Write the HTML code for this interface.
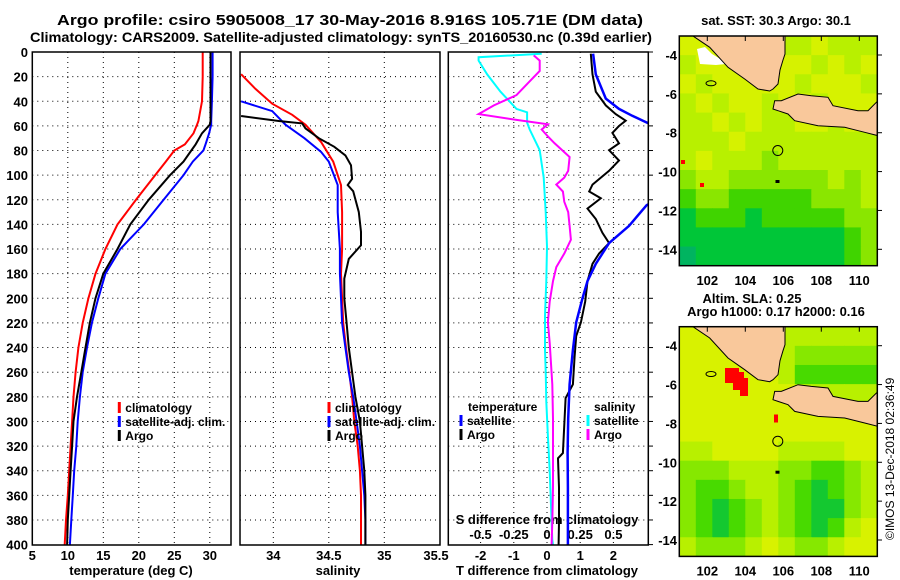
<!DOCTYPE html>
<html><head><meta charset="utf-8"><style>
body{margin:0;background:#fff}
svg{display:block}
text{font-family:"Liberation Sans",Arial,sans-serif;font-weight:bold;fill:#000}
</style></head><body>
<svg id="c" width="900" height="580" viewBox="0 0 900 580" xmlns="http://www.w3.org/2000/svg">
<defs>
<clipPath id="cp1"><rect x="32.3" y="52" width="198.7" height="493"/></clipPath>
<clipPath id="cp2"><rect x="240" y="52" width="200" height="493"/></clipPath>
<clipPath id="cp3"><rect x="448.3" y="52" width="200" height="493"/></clipPath>
<clipPath id="cpm1"><rect x="679.3" y="36" width="198" height="229.7"/></clipPath>
<clipPath id="cpm2"><rect x="679.3" y="326.7" width="198" height="230"/></clipPath>
</defs>
<text x="350" y="25" text-anchor="middle" font-size="15" textLength="586" lengthAdjust="spacingAndGlyphs">Argo profile: csiro 5905008_17 30-May-2016 8.916S 105.71E (DM data)</text>
<text x="341" y="42" text-anchor="middle" font-size="14" textLength="622" lengthAdjust="spacingAndGlyphs">Climatology: CARS2009. Satellite-adjusted climatology: synTS_20160530.nc (0.39d earlier)</text>
<g id="g"></g>
</svg>
<script>
// depth levels
var tDepth=[0,20,40,56,59,66,75,80,89,100,120,140,160,180,200,220,240,260,280,300,320,340,360,380,400];
var tClim=[29.0,29.0,28.9,28.4,28.2,27.7,26.5,25.0,23.8,22.3,19.6,17.0,15.3,13.9,12.9,12.1,11.5,11.1,10.8,10.6,10.4,10.2,10.0,9.75,9.57];
var tSat=[30.4,30.4,30.3,30.2,30.2,29.9,29.4,29.1,27.6,26.3,23.5,20.7,17.4,15.3,14.3,13.4,12.7,12.1,11.7,11.4,11.2,10.9,10.7,10.5,10.3];
var tArgo=[30.1,30.1,30.1,30.1,30.0,28.9,28.0,27.4,26.3,24.4,21.4,18.8,17.0,15.0,13.9,13.1,12.5,11.9,11.3,10.8,10.6,10.4,10.2,10.0,9.9];

var sClimDepth=[18,30,42,51,59,73,89,108,130,160,180,200,220,240,260,280,300,320,340,360,380,400];
var sClim=[33.71,33.84,33.99,34.17,34.29,34.43,34.54,34.61,34.62,34.62,34.61,34.62,34.63,34.655,34.685,34.71,34.73,34.76,34.78,34.79,34.79,34.79];
var sSatDepth=[40,48,59,70,81,89,108,130,160,180,200,220,240,260,280,300,320,340,360,380,400];
var sSat=[33.71,33.99,34.11,34.28,34.43,34.50,34.58,34.58,34.60,34.60,34.61,34.62,34.65,34.68,34.72,34.75,34.78,34.80,34.82,34.83,34.83];
var sArgoDepth=[52,56,58,62,70,77,84,92,103,108,113,130,146,157,168,184,200,220,240,260,280,300,320,340,360,380,400];
var sArgo=[33.71,34.05,34.26,34.29,34.41,34.55,34.65,34.70,34.71,34.67,34.72,34.77,34.79,34.79,34.68,34.64,34.64,34.66,34.68,34.71,34.74,34.78,34.80,34.82,34.83,34.83,34.83];

var dSalSatDepth=[1.4,4.2,7.0,18.2,32.2,46.2,49.0,57.3,62.9,79.7,102,130,158,186,214,242,259,284,312,340,368,396,400];
var dSalSat=[-0.04,-0.515,-0.515,-0.45,-0.35,-0.23,-0.15,-0.15,-0.13,-0.055,-0.025,-0.01,0,-0.005,-0.015,-0.015,-0.01,-0.005,0.007,0.02,0.03,0.04,0.045];
var dSalArgoDepth=[2.8,7.0,15.4,23.8,35,43.4,50.4,55.1,58.7,62.9,68.5,74.1,85.3,96.5,102,107.7,113.3,121.6,130,141.2,152.4,163.6,174.7,186,202.7,219.5,236.2,253,269.8,297.7,325.7,353.6,381.6,400];
var dSalArgo=[-0.10,-0.055,-0.055,-0.13,-0.23,-0.40,-0.515,-0.23,0.007,-0.04,0.007,0.057,0.17,0.16,0.13,0.07,0.12,0.13,0.16,0.17,0.18,0.13,0.07,0.045,0.02,0.007,0.02,0.03,0.04,0.045,0.045,0.045,0.04,0.035];
var dTmpArgoDepth=[1.4,18.2,32.2,43.4,50.4,55.8,60.1,65.7,74.1,79.7,88.1,96.5,107.7,113.3,118.8,127.2,135.6,146.8,155.2,163.6,172,186,202.7,219.5,230.7,247.4,269.8,281,297.7,325.7,329.9,353.6,381.6,400];
var dTmpArgo=[1.32,1.37,1.47,1.77,2.07,2.37,2.17,1.97,2.17,1.87,2.17,1.87,1.37,1.27,1.62,1.22,1.47,1.67,1.87,1.57,1.37,1.22,1.15,1.02,0.88,0.83,0.78,0.56,0.53,0.48,0.33,0.36,0.36,0.35];
var dTmpSatDepth=[1.4,18.2,37.8,46.2,51.8,57.3,70,90,110,124.4,141.2,155.2,172,186,199.9,219.5,242,269.8,297.7,325.7,353.6,381.6,400];
var dTmpSat=[1.39,1.47,1.77,2.17,2.57,3.01,4.2,4.6,4.0,3.0,2.47,1.87,1.47,1.22,1.07,0.88,0.78,0.68,0.64,0.62,0.63,0.63,0.63];

var depthTicks=[0,20,40,60,80,100,120,140,160,180,200,220,240,260,280,300,320,340,360,380,400];
var tTicks=[5,10,15,20,25,30];
var sTicks=[34,34.5,35,35.5];
var sTickLabels=["34","34.5","35","35.5"];
var dtTicks=[-3,-2,-1,0,1,2];
var dtTickLabels=["-1.5","-2","-1","0","1","2"];
var dsTicks=[-0.5,-0.25,0,0.25,0.5];
var dsTickLabels=["-0.5","-0.25","0","0.25","0.5"];
var lonTicks=[102,104,106,108,110];
var latTicks=[-4,-6,-8,-10,-12,-14];

// map heatmaps (level values)
var sstLevels=[
[0,0,0,0,0,0,1,1,0,1,1,1],
[1,0,0,0,0,0,0,0,1,0,1,0],
[0,1,0,0,0,0,0,1,0,0,0,1],
[1,0,1,0,0,1,0,0,1,0,0,0],
[1,1,0,1,0,1,1,0,0,1,0,0],
[1,1,1,0,1,1,1,1,1,1,1,1],
[1,0,1,1,1,2,1,1,1,1,1,1],
[2,1,1,2,2,2,2,2,2,1,2,1],
[3,2,2,3,3,3,3,3,2,2,2,1],
[4,3,3,3,4,3,3,3,3,3,2,2],
[4,4,4,4,4,4,4,4,4,4,3,2],
[5,4,4,4,4,4,4,4,4,4,3,2]];
var slaLevels=[
[0,0,0,0,0,0,1,1,1,1,1,1],
[0,0,0,0,0,0,1,2,2,2,2,2],
[0,0,0,0,0,0,1,3,3,3,3,3],
[0,0,0,0,0,0,0,1,1,1,1,1],
[0,0,0,0,0,0,0,0,0,0,0,0],
[0,0,0,0,0,0,0,0,0,0,0,0],
[1,1,0,0,0,0,1,1,1,1,0,0],
[2,2,2,1,1,1,2,2,3,3,2,1],
[2,3,3,2,1,1,2,3,4,3,2,1],
[2,3,4,3,2,1,2,3,4,4,2,1],
[2,3,4,3,2,1,2,3,4,3,1,0],
[1,2,2,2,1,0,1,2,2,1,0,0]];
var sstColors=["#d6f200","#b8f000","#8ae600","#40d400","#00c638","#00b460"];
var slaColors=["#d8f200","#b8f000","#86e800","#48da00","#14c830"];

var NS="http://www.w3.org/2000/svg";
var G=document.getElementById('g');
function mk(tag,attrs,parent){var e=document.createElementNS(NS,tag);for(var k in attrs)e.setAttribute(k,attrs[k]);(parent||G).appendChild(e);return e;}
function txt(x,y,s,size,anchor,parent){var e=mk('text',{x:x,y:y,'font-size':size,'text-anchor':anchor||'middle'},parent);e.textContent=s;return e;}

function yD(d){return 52+d*1.2315;}
function xT(t){return 32.3+(t-5)*7.1;}
function xS(s){return 273.3+(s-34)*111;}
function xDT(t){return 547+t*33.2;}
function xDS(s){return 547+s*132.8;}
function mLon(l){return 707.3+(l-102)*19;}
function mLat(l,off){return 55+off+(-4-l)*19.43;}

var panels=[[32.3,231],[240,440],[448.3,648.3]];
panels.forEach(function(p,i){
  var gg=mk('g',{});
  
  
  depthTicks.forEach(function(d){if(d>0&&d<400)mk('line',{x1:p[0],x2:p[1],y1:yD(d),y2:yD(d),stroke:'#000','stroke-width':1,'stroke-dasharray':'1,4'},gg);});
});
tTicks.forEach(function(t){if(t>5)mk('line',{x1:xT(t),x2:xT(t),y1:52,y2:545,stroke:'#000','stroke-dasharray':'1,4'});});
[34,34.5,35].forEach(function(s){mk('line',{x1:xS(s),x2:xS(s),y1:52,y2:545,stroke:'#000','stroke-dasharray':'1,4'});});
[-2,-1,0,1,2].forEach(function(t){mk('line',{x1:xDT(t),x2:xDT(t),y1:52,y2:545,stroke:'#000','stroke-dasharray':'1,4'});});

depthTicks.forEach(function(d){var e=txt(28,yD(d)+5,String(d),13,'end');

});
tTicks.forEach(function(t){var e=txt(xT(t),560,String(t),13);

});
sTicks.forEach(function(s,i){var e=txt(Math.min(xS(s),436),560,sTickLabels[i],13);

});
dtTicks.forEach(function(t,i){if(i==0)return;var e=txt(xDT(t),560,dtTickLabels[i],13);

});
var e;
e=txt(131,575,'temperature (deg C)',13);
e=txt(338,575,'salinity',13);
e=txt(547,575,'T difference from climatology',13);
e=txt(547,524,'S difference from climatology',13);
dsTicks.forEach(function(s,i){var t=txt(xDS(s),539,dsTickLabels[i],13);

});

function line(depths,vals,xf,color,clip,name,w){
  var pts=depths.map(function(d,i){return xf(vals[i]).toFixed(1)+','+yD(d).toFixed(1);}).join(' ');
  var p=mk('polyline',{points:pts,fill:'none',stroke:color,'stroke-width':w||2,'clip-path':'url(#'+clip+')'});
  
  
}
line(tDepth,tClim,xT,'#f00','cp1','temp-climatology-line');
line(tDepth,tSat,xT,'#00f','cp1','temp-satellite-adj-line');
line(tDepth,tArgo,xT,'#000','cp1','temp-argo-line');
line(sClimDepth,sClim,xS,'#f00','cp2','sal-climatology-line');
line(sSatDepth,sSat,xS,'#00f','cp2','sal-satellite-adj-line');
line(sArgoDepth,sArgo,xS,'#000','cp2','sal-argo-line');
line(dSalSatDepth,dSalSat,xDS,'#0ff','cp3','sdiff-satellite-line');
line(dSalArgoDepth,dSalArgo,xDS,'#f0f','cp3','sdiff-argo-line');
line(dTmpArgoDepth,dTmpArgo,xDT,'#000','cp3','tdiff-argo-line');
line(dTmpSatDepth,dTmpSat,xDT,'#00f','cp3','tdiff-satellite-line',2.5);

panels.forEach(function(p,i){var r=mk('rect',{x:p[0],y:52,width:p[1]-p[0],height:493,fill:'none',stroke:'#000','stroke-width':1.5});

});
depthTicks.forEach(function(d){mk('line',{x1:648.3,x2:653,y1:yD(d),y2:yD(d),stroke:'#000'});});

function leg(x,y,color,label,name){
  mk('rect',{x:x-1.5,y:y-10,width:3,height:11,fill:color});
  var t=txt(x+6,y,label,12,'start');
  
  
}
leg(119.3,412,'#f00','climatology','legend-temp-climatology');
leg(119.3,426,'#00f','satellite-adj. clim.','legend-temp-satellite');
leg(119.3,440,'#000','Argo','legend-temp-argo');
leg(329,412,'#f00','climatology','legend-sal-climatology');
leg(329,426,'#00f','satellite-adj. clim.','legend-sal-satellite');
leg(329,440,'#000','Argo','legend-sal-argo');
e=txt(468,411,'temperature',12,'start');
e=txt(594,411,'salinity',12,'start');
leg(461,425,'#00f','satellite','legend-tdiff-satellite');
leg(461,439,'#000','Argo','legend-tdiff-argo');
leg(588,425,'#0ff','satellite','legend-sdiff-satellite');
leg(588,439,'#f0f','Argo','legend-sdiff-argo');

// maps (coastline outline points in pixels relative to top map)
var sumatra=[[690,34],[785,34],[785,54],[783,60],[780,70],[778,84],[773,89],[769.7,91],[758,89],[744.7,79],[728,67.3],[709.7,47.3]];
var java=[[774.7,100.7],[781.3,100.7],[798,94],[811.3,95.7],[828,97.3],[833,105.7],[858,110.7],[868,110.7],[878,100.7],[878,135.7],[864.7,132.3],[844.7,127.3],[818,125.7],[794.7,120.7],[788,114],[778,110.7],[773,109]];
var cloud=[[697,49],[705,47],[712,54],[722,60],[726,64],[716,65],[700,64]];
function poly(pts,off){return pts.map(function(p){return p[0].toFixed(1)+','+(p[1]+off).toFixed(1);}).join(' ');}
function drawMap(levels,colors,off,clip,name,withCloud){
  var mg=mk('g',{'clip-path':'url(#'+clip+')'});
  
  
  var top=36+off,h=229.7,w=198,nr=levels.length,nc=levels[0].length;
  levels.forEach(function(row,r){row.forEach(function(v,c){
    mk('rect',{x:679.3+c*w/nc,y:top+r*h/nr,width:w/nc+0.6,height:h/nr+0.6,fill:colors[v]},mg);});});
  if(withCloud)mk('polygon',{points:poly(cloud,off),fill:'#fff'},mg);
  mk('polygon',{points:poly(sumatra,off),fill:'#f9c89b',stroke:'#000','stroke-width':1},mg);
  mk('polygon',{points:poly(java,off),fill:'#f9c89b',stroke:'#000','stroke-width':1},mg);
  mk('ellipse',{cx:711,cy:83.3+off,rx:5,ry:2.5,fill:'none',stroke:'#000'},mg);
  var c=mk('circle',{cx:mLon(105.71),cy:mLat(-8.916,off),r:5,fill:'none',stroke:'#000','stroke-width':1},mg);
  
  
  mk('rect',{x:775.5,y:180+off,width:4,height:3,fill:'#000'},mg);
  return mg;
}
var m1=drawMap(sstLevels,sstColors,0,'cpm1','sst-map',true);
mk('rect',{x:681,y:160,width:4,height:4,fill:'#f00'},m1);
mk('rect',{x:700,y:183,width:4,height:4,fill:'#f00'},m1);
var m2=drawMap(slaLevels,slaColors,290.7,'cpm2','sla-map',false);
mk('polygon',{points:'725,368 739,368 739,372 744,372 744,378 748,378 748,396 740,396 740,390 733,390 733,383 725,383',fill:'#f00'},m2);
mk('rect',{x:774,y:414.5,width:4,height:8,fill:'#f00'},m2);
[0,290.7].forEach(function(off,i){
  var r=mk('rect',{x:679.3,y:36+off,width:198,height:229.7,fill:'none',stroke:'#000','stroke-width':1.5});
  
  
  lonTicks.forEach(function(l){var t=txt(mLon(l),285+off,String(l),13);
  
  
  mk('line',{x1:mLon(l),x2:mLon(l),y1:36+off,y2:41+off,stroke:'#000'});});
  latTicks.forEach(function(l){var t=txt(677,mLat(l,off)+5,String(l),13,'end');
  
  
  mk('line',{x1:877.3,x2:882,y1:mLat(l,off),y2:mLat(l,off),stroke:'#000'});});
});
e=txt(776,25,'sat. SST: 30.3 Argo: 30.1',13);
e=txt(752,303,'Altim. SLA: 0.25',13);
e=txt(776,316,'Argo h1000: 0.17 h2000: 0.16',13);
e=mk('text',{x:0,y:0,'font-size':12,'text-anchor':'start',transform:'translate(894,540) rotate(-90)',style:'font-weight:normal'});
e.textContent='©IMOS 13-Dec-2018 02:36:49';


</script>
</body></html>
